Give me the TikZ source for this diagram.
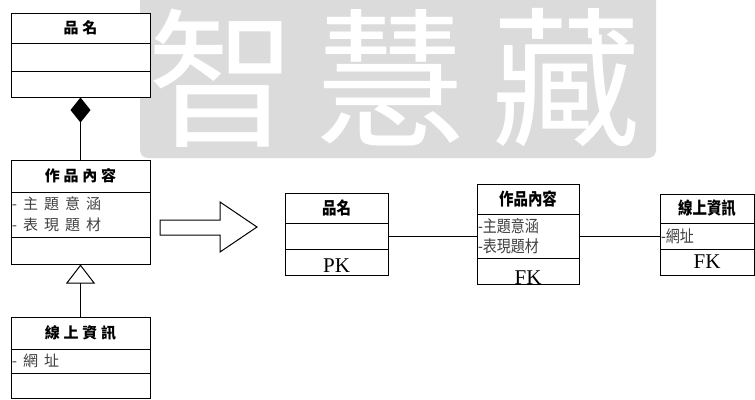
\documentclass[tikz,border=0pt]{standalone}
\usepackage{fontspec}
\setmainfont{Liberation Serif}
\newfontfamily\cjk{Noto Sans CJK TC}
\newfontfamily\cjkwide[LetterSpace=25]{Noto Sans CJK TC}
\newfontfamily\cjkattr[LetterSpace=40]{Noto Sans CJK TC}
\newfontfamily\cjknarrow[FakeStretch=0.85]{Noto Sans CJK TC}
\newcommand{\lhead}{\cjkwide\bfseries\fontsize{15}{18}\selectfont}
\newcommand{\rhead}{\cjknarrow\bfseries\fontsize{17}{19}\selectfont}
\newcommand{\keyfont}{\fontsize{21}{24}\selectfont}
\usetikzlibrary{arrows.meta}

\begin{document}
\begin{tikzpicture}[x=1pt,y=-1pt,
		cell/.style={draw,line width=1pt,fill=white,inner sep=0pt},
		lcell/.style={cell,minimum width=139pt},
		rcell/.style={cell,line width=.8pt},
		attr/.style={align=left,text=black!75},
		key/.style={font=\keyfont,text depth=0pt},
		mark wm/.style={white,inner sep=0pt,font=\cjk\fontsize{150}{150}\selectfont}]
	\useasboundingbox (0,0) rectangle (755,399);
	% watermark
	\fill[gray!28,rounded corners=8pt] (140,-10) rectangle (656,158);
	\node[mark wm] (wm1) at (222,78) {智};
	\node[mark wm] (wm2) at (390,78) {慧};
	\node[mark wm] (wm3) at (566,78) {藏};
	% UML classes
	\node[lcell,minimum height=30pt,font=\lhead] (pm1) at (80.5,28) {品名};
	\node[lcell,minimum height=28pt] (pm2) at (80.5,57) {};
	\node[lcell,minimum height=26pt] (pm3) at (80.5,84) {};
	\node[lcell,minimum height=32pt,font=\lhead] (nr1) at (80.5,176) {作品內容};
	\node[lcell,attr,minimum height=45pt,text width=137pt,inner xsep=1pt,
		font=\cjkattr\fontsize{15}{21}\selectfont] (nr2) at (80.5,214.5) {-主題意涵\\-表現題材};
	\node[lcell,minimum height=27pt] (nr3) at (80.5,250.5) {};
	\node[lcell,minimum height=32pt,font=\lhead] (zx1) at (80.5,333) {線上資訊};
	\node[lcell,attr,minimum height=24pt,text width=137pt,inner xsep=1pt,
		font=\cjkattr\fontsize{15}{16}\selectfont] (zx2) at (80.5,361) {-網址};
	\node[lcell,minimum height=25pt] (zx3) at (80.5,385.5) {};
	\draw[line width=1pt,{Diamond[length=25pt,width=20pt]}-] (pm3.south) -- (nr1.north);
	\draw[line width=1pt,-{Triangle[open,length=19pt,width=29pt,fill=white]}] (zx1.north) -- (nr3.south);
	% arrow
	\draw[line width=1pt] (160,220) -- (220,220) -- (220,202) -- (257,227)
		-- (220,252) -- (220,235) -- (160,235) -- cycle;
	% tables
	\node[rcell,minimum width=103pt,minimum height=30pt,font=\rhead] (rpm1) at (336.5,208) {品名};
	\node[rcell,minimum width=103pt,minimum height=26pt] (rpm2) at (336.5,236) {};
	\node[rcell,key,minimum width=103pt,minimum height=26pt,text height=20pt] (rpm3) at (336.5,262) {PK};
	\node[rcell,minimum width=102pt,minimum height=30pt,font=\rhead] (rnr1) at (528,199) {作品內容};
	\node[rcell,attr,minimum height=44pt,text width=100pt,inner xsep=1pt,
		font=\cjknarrow\fontsize{16.5}{20}\selectfont] (rnr2) at (528,236) {-主題意涵\\-表現題材};
	\node[rcell,key,minimum width=102pt,minimum height=26pt,text height=26pt] (rnr3) at (528,271) {FK};
	\node[rcell,minimum width=94pt,minimum height=29pt,font=\rhead] (rzx1) at (707,208.5) {線上資訊};
	\node[rcell,attr,minimum height=26pt,text width=92pt,inner xsep=1pt,
		font=\cjknarrow\fontsize{16.5}{18}\selectfont] (rzx2) at (707,236) {-網址};
	\node[rcell,key,minimum width=94pt,minimum height=26pt,text height=12pt] (rzx3) at (707,262) {FK};
	\draw[line width=.8pt] (rpm2.east) -- (rpm2.east -| rnr2.west);
	\draw[line width=.8pt] (rnr2.east) -- (rnr2.east -| rzx2.west);
\end{tikzpicture}
\end{document}
